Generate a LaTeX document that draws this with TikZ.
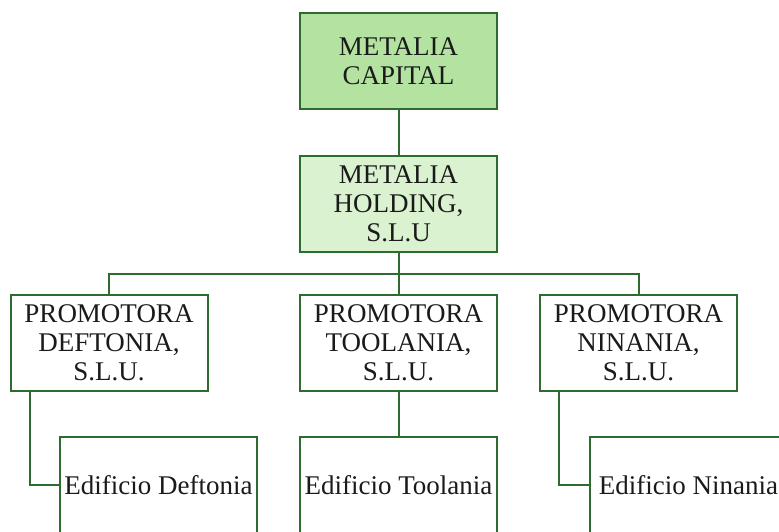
\documentclass[tikz,border=0pt]{standalone}
\usepackage{fontspec}
\setmainfont{Liberation Serif}
\definecolor{edgegreen}{HTML}{2E6B2E}
\definecolor{darkfill}{HTML}{B4E3A1}
\definecolor{lightfill}{HTML}{DAF2D0}
\definecolor{txt}{HTML}{1A1A1A}
\tikzset{
  orgbox/.style={draw=edgegreen, line width=2pt, fill=white, minimum width=197pt, minimum height=96pt,
    inner sep=0pt, align=center, text=txt, font=\fontsize{27}{29}\selectfont},
  link/.style={draw=edgegreen, line width=2pt}
}
\begin{document}
\begin{tikzpicture}[x=1pt,y=-1pt]
\useasboundingbox (0,0) rectangle (779,531);
\clip (0,0) rectangle (779,531);
\node[orgbox, fill=darkfill] (top) at (398.5,61) {METALIA\\CAPITAL};
\node[orgbox, fill=lightfill] (hold) at (398.5,204) {METALIA\\HOLDING,\\S.L.U};
\node[orgbox] (def) at (109,343) {PROMOTORA\\DEFTONIA,\\S.L.U.};
\node[orgbox] (tool) at (398.5,343) {PROMOTORA\\TOOLANIA,\\S.L.U.};
\node[orgbox] (nin) at (638.5,343) {PROMOTORA\\NINANIA,\\S.L.U.};
\node[orgbox] (ed1) at (158.5,485) {Edificio Deftonia};
\node[orgbox] (ed2) at (398.5,485) {Edificio Toolania};
\node[orgbox] (ed3) at (688.5,485) {Edificio Ninania};
\coordinate (bus) at (398.5,274);
\draw[link] (top.south) -- (hold.north);
\draw[link] (hold.south) -- (tool.north);
\draw[link] (def.north) |- (bus) -| (nin.north);
\draw[link] ([xshift=20pt]def.south west) |- (ed1.west);
\draw[link] (tool.south) -- (ed2.north);
\draw[link] ([xshift=20pt]nin.south west) |- (ed3.west);
\end{tikzpicture}
\end{document}
